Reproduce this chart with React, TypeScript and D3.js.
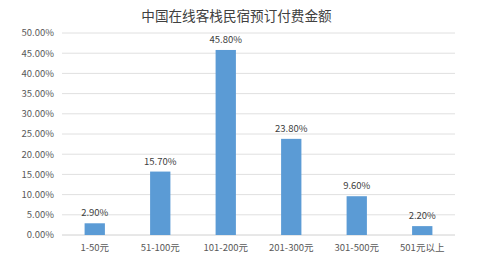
import React from "react";
import * as d3 from "d3";

const categories = ["1-50元", "51-100元", "101-200元", "201-300元", "301-500元", "501元以上"];
const values = [2.9, 15.7, 45.8, 23.8, 9.6, 2.2];
const yTicks = [0, 5, 10, 15, 20, 25, 30, 35, 40, 45, 50];
const title = "中国在线客栈民宿预订付费金额";

const W = 485, H = 269;
const margin = { left: 62, right: 30, top: 33, bottom: 34 };
const font = "'Noto Sans CJK SC', 'Noto Sans', sans-serif";

export default function App() {
  const x = d3.scaleBand().domain(categories).range([margin.left, W - margin.right]).paddingInner(0.69).paddingOuter(0.345);
  const y = d3.scaleLinear().domain([0, 50]).range([H - margin.bottom, margin.top]);
  const xStep = (W - margin.right - margin.left) / categories.length;
  return (
    <svg width={W} height={H} style={{ position: "absolute", left: 0, top: 0, background: "#fff" }}>
      <text x={236.5} y={21} textAnchor="middle" fontFamily={font} fontSize={13.6} fill="#404040">{title}</text>
      {yTicks.map((t) => (
        <g key={t}>
          <line x1={margin.left} x2={W - margin.right} y1={y(t)} y2={y(t)} stroke={t === 0 ? "#d0d0d0" : "#e0e0e0"} strokeWidth={1} />
          <text x={54} y={y(t)} dy="0.35em" textAnchor="end" fontFamily={font} fontSize={9.5} fill="#595959">{t.toFixed(2) + "%"}</text>
        </g>
      ))}
      {categories.map((c, i) => {
        const bx = x(c)!;
        const bw = x.bandwidth();
        const v = values[i];
        return (
          <g key={c}>
            <rect x={bx} y={y(v)} width={bw} height={y(0) - y(v)} fill="#5B9BD5" />
            <text x={bx + bw / 2} y={y(v) - 7} textAnchor="middle" fontFamily={font} fontSize={9.5} fill="#404040">{v.toFixed(2) + "%"}</text>
            <text x={margin.left + xStep * (i + 0.5)} y={y(0) + 16} textAnchor="middle" fontFamily={font} fontSize={9.5} fill="#595959">{c}</text>
          </g>
        );
      })}
    </svg>
  );
}
